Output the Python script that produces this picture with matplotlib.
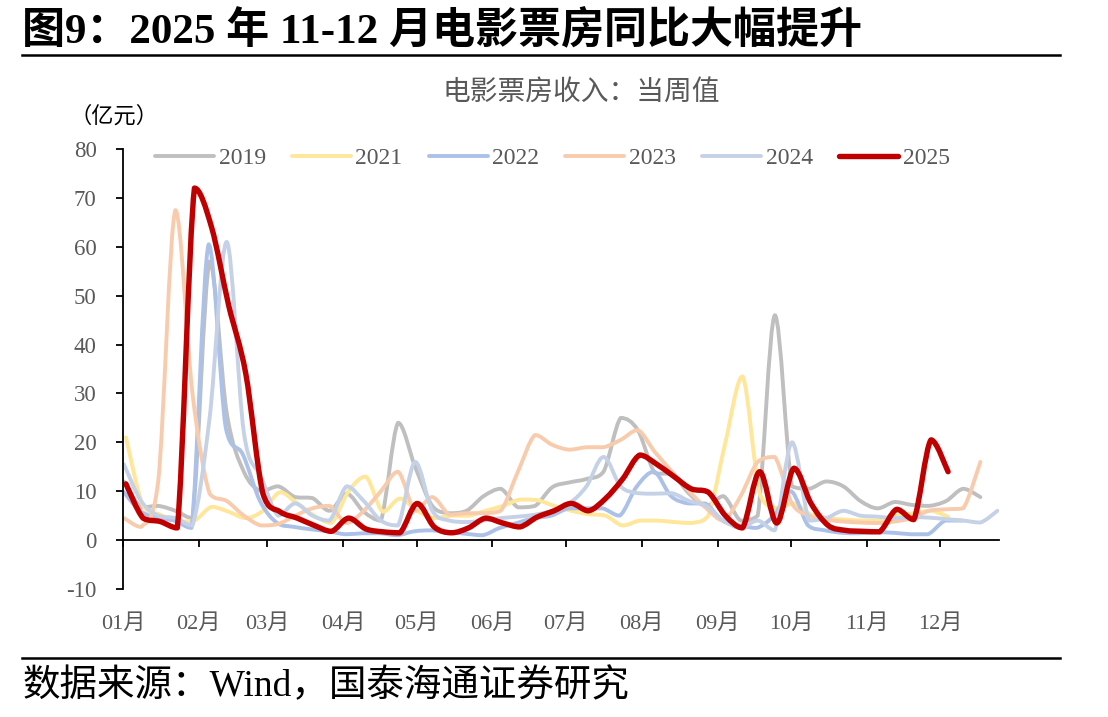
import matplotlib.pyplot as plt
import numpy as np
from matplotlib.path import Path
from matplotlib.patches import PathPatch
from matplotlib.lines import Line2D

plt.rcParams['axes.unicode_minus'] = False

# weekly box office (亿元), first point's day-of-year, then one value per week
years = ['2019', '2021', '2022', '2023', '2024', '2025']
start_day = {'2019': 0.4, '2021': 1.2, '2022': 0.0, '2023': 0.4, '2024': 0.4, '2025': 1.2}

v2019 = [12, 6.7, 7, 6, 4.5, 57, 26, 14, 10, 11, 8.8, 8.6, 6, 9.5, 5.8, 4,
         24, 15, 7, 5.5, 6, 9, 10.5, 6.7, 7, 10.8, 11.8, 12.5, 14, 25, 22.5, 13.7,
         13.5, 9.5, 7, 9, 4, 5, 46, 11, 10.5, 12, 11, 8, 6.5, 7.8, 7.2, 7, 8,
         10.5, 8.8]
v2021 = [21, 7, 5.2, 3.8, 4, 6.8, 5.8, 4.5, 6, 9.8, 7.5, 5, 3.5, 10, 13, 5.8,
         8.5, 6, 4.5, 5, 5, 6, 7, 8.3, 8.2, 7, 6, 5.3, 5, 3, 4, 4,
         3.7, 3.5, 5, 20, 33.5, 9.5, 6.5, 7.5, 5.2, 4.5, 4.2, 4, 4, 5, 5.5, 6, 4.8]
v2022 = [10, 6, 4.5, 4, 2.5, 60.5, 23, 17.5, 8, 3.5, 2.7, 2.2, 1.8, 1.2, 1.4, 1.4,
         1, 1.8, 2, 1.7, 1.3, 1, 2.5, 3.5, 4.5, 5, 6.5, 6.5, 6.5, 5, 11, 14,
         9, 7.5, 7.5, 4, 3, 2.5, 5, 10, 3, 2, 1.5, 1.4, 1.6, 1.5, 1.2, 1.2, 4, 4]
v2023 = [4.5, 2.7, 12, 67.5, 30, 9.5, 8, 5, 3, 3.3, 5, 6.5, 7, 3.5, 6, 10,
         14, 6, 8.8, 5.2, 5.5, 5.5, 6, 14, 21.5, 19.5, 18.5, 19, 19, 20.5, 22.5, 18,
         14, 10, 6.5, 4, 9, 16, 17, 7.5, 5, 4.2, 3.8, 3.6, 3.5, 3.8, 4.5, 6, 6.3,
         6.5, 16]
v2024 = [15.5, 8, 5, 4.5, 3, 25, 61, 22, 13, 5, 7.5, 5, 4, 11, 8, 4,
         3, 16, 6, 4, 3.7, 4, 4.5, 4.8, 5.2, 6, 7.5, 11, 17, 11, 9.6, 9.5,
         9.6, 8, 7, 4, 2.5, 4, 2, 20, 4, 4.5, 6, 5, 4.8, 4.5, 4.7, 4.6, 4.3,
         4, 3.6, 6]
v2025 = [11.5, 4.5, 3.8, 2.5, 72, 64, 48, 34, 9.5, 5.8, 4.5, 3, 1.8, 4.5, 2.3, 1.7,
         1.5, 7.5, 2.7, 1.5, 2.5, 4.5, 3.5, 2.7, 4.7, 6, 7.5, 6, 8.5, 12.5, 17.4, 15.5,
         13, 10.5, 9.8, 5, 2.5, 14, 3.5, 14.7, 7.5, 3, 2, 1.8, 1.7, 6.3, 4.2, 20.5, 14]
values = {'2019': v2019, '2021': v2021, '2022': v2022,
          '2023': v2023, '2024': v2024, '2025': v2025}

month_days = [0, 31, 59, 90, 120, 151, 181, 212, 243, 273, 304, 334]
month_labels = ['01月', '02月', '03月', '04月', '05月', '06月',
                '07月', '08月', '09月', '10月', '11月', '12月']

colors = {'2019': '#bfbfbf', '2021': '#ffe699', '2022': '#abc1e7',
          '2023': '#f8cbad', '2024': '#c5d1e6', '2025': '#c00000'}
widths = {'2019': 2.8, '2021': 2.8, '2022': 2.8, '2023': 2.8, '2024': 2.8, '2025': 3.9}

serif = ['Liberation Serif', 'Noto Sans CJK SC']
grey = '#595959'


def smooth_path(x, y):
    # smoothed line like Excel: cubic bezier through every weekly point,
    # control points kept inside each segment so it doesn't dip below zero
    pts = np.column_stack([x, y])
    n = len(pts)
    verts = [pts[0]]
    codes = [Path.MOVETO]
    for i in range(n - 1):
        p0 = pts[i - 1] if i > 0 else pts[i]
        p1 = pts[i]
        p2 = pts[i + 1]
        p3 = pts[i + 2] if i + 2 < n else pts[i + 1]
        c1 = p1 + (p2 - p0) / 6.0
        c2 = p2 - (p3 - p1) / 6.0
        lo, hi = min(p1[1], p2[1]), max(p1[1], p2[1])
        c1[1] = np.clip(c1[1], lo, hi)
        c2[1] = np.clip(c2[1], lo, hi)
        verts += [c1, c2, p2]
        codes += [Path.CURVE4] * 3
    return Path(verts, codes)


fig = plt.figure(figsize=(11.08, 7.17), dpi=100)
ax = fig.add_axes([0.111, 0.1785, 0.7906, 0.6137])

handles = []
for yr in years:
    vals = np.array(values[yr], dtype=float)
    days = start_day[yr] + 7 * np.arange(len(vals))
    patch = PathPatch(smooth_path(days, vals), fill=False, edgecolor=colors[yr],
                      lw=widths[yr], capstyle='round', joinstyle='round',
                      transform=ax.transData)
    ax.add_patch(patch)
    handles.append(Line2D([], [], color=colors[yr], lw=widths[yr],
                          solid_capstyle='round', label=yr))

ax.set_xlim(0, 358)
ax.set_ylim(-10, 80)
ax.set_yticks(range(-10, 81, 10))
ax.set_xticks(month_days)
ax.set_xticklabels(month_labels)

for s in ['top', 'right']:
    ax.spines[s].set_visible(False)
ax.spines['bottom'].set_position(('data', 0))
ax.spines['bottom'].set_linewidth(1.3)
ax.spines['left'].set_linewidth(1.3)

ax.tick_params(axis='y', direction='out', length=5, width=1.3, pad=14,
               labelsize=16.5, labelcolor=grey)
ax.tick_params(axis='x', direction='out', length=5, width=1.3, pad=48,
               labelsize=16, labelcolor=grey)
for lab in ax.get_xticklabels() + ax.get_yticklabels():
    lab.set_family(serif)

leg = ax.legend(handles=handles, loc='center', bbox_to_anchor=(0.49, 0.979),
                ncol=6, frameon=False, handlelength=2.5, handletextpad=0.2,
                columnspacing=1.1, prop={'family': serif, 'size': 17})
for t in leg.get_texts():
    t.set_color(grey)

# header, sub title, unit and source
fig.text(0.02, 0.956, '图9：2025 年 11-12 月电影票房同比大幅提升', family=serif,
         fontsize=31, fontweight='bold', va='center', ha='left')
fig.add_artist(Line2D([0.02, 0.957], [0.923, 0.923], color='black', lw=1.8))
fig.text(0.525, 0.871, '电影票房收入：当周值', family=serif, fontsize=20,
         color=grey, va='center', ha='center')
fig.text(0.063, 0.837, '（亿元）', family=serif, fontsize=16, va='center', ha='left')
fig.add_artist(Line2D([0.02, 0.957], [0.082, 0.082], color='black', lw=1.8))
fig.text(0.02, 0.043, '数据来源：Wind，国泰海通证券研究', family=serif,
         fontsize=27, va='center', ha='left')

fig.savefig('out.png', dpi=100)
